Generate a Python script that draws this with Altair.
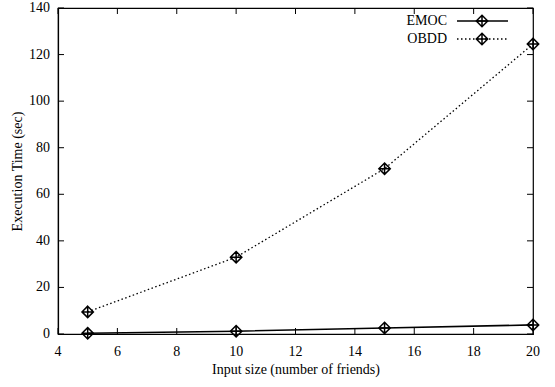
import altair as alt
import pandas as pd

sizes = [5, 10, 15, 20]
emoc = [0.3, 1.2, 2.6, 3.9]
obdd = [9.5, 33.0, 71.0, 124.5]
series_names = ["EMOC", "OBDD"]
x_ticks = [4, 6, 8, 10, 12, 14, 16, 18, 20]
y_ticks = [0, 20, 40, 60, 80, 100, 120, 140]

W, H = 475, 326
FONT = "Liberation Serif"
MARK = "M0,-1L1,0L0,1L-1,0Z M0,-1L0,1 M-1,0L1,0"

df = pd.DataFrame({
    "x": sizes * 2,
    "y": emoc + obdd,
    "s": [series_names[0]] * len(sizes) + [series_names[1]] * len(sizes),
})
xt = pd.DataFrame({"v": x_ticks})
yt = pd.DataFrame({"v": y_ticks})

xs = alt.Scale(domain=[4, 20], nice=False, zero=False)
ys = alt.Scale(domain=[0, 140], nice=False)

axis_style = dict(tickSize=0, grid=False, labels=False, titleFont=FONT,
                  titleFontSize=14, titleColor="black", domainColor="black",
                  domainWidth=1.2, titleFontWeight="normal")
xaxis = alt.Axis(values=x_ticks, title="Input size (number of friends)",
                 titlePadding=28, **axis_style)
yaxis = alt.Axis(values=y_ticks, title="Execution Time (sec)",
                 titlePadding=33, **axis_style)

def X(f):
    return alt.X(f, scale=xs, axis=xaxis)

def Y(f):
    return alt.Y(f, scale=ys, axis=yaxis)

base = alt.Chart(df)
emoc_line = base.transform_filter(alt.datum.s == "EMOC").mark_line(
    color="black", strokeWidth=1.6).encode(x=X("x:Q"), y=Y("y:Q"))
obdd_line = base.transform_filter(alt.datum.s == "OBDD").mark_line(
    color="black", strokeWidth=1.3, strokeDash=[1.5, 2.5]).encode(x=X("x:Q"), y=Y("y:Q"))
pts = base.mark_point(shape=MARK, size=130, filled=False, color="black",
                      strokeWidth=1.5, opacity=1).encode(x=X("x:Q"), y=Y("y:Q"))

xb = alt.Chart(xt).mark_rule(color="black").encode(
    x=X("v:Q"), y=alt.value(H), y2=alt.value(H - 6))
xtp = alt.Chart(xt).mark_rule(color="black").encode(
    x=X("v:Q"), y=alt.value(0), y2=alt.value(6))
yl = alt.Chart(yt).mark_rule(color="black").encode(
    y=Y("v:Q"), x=alt.value(0), x2=alt.value(6))
yr = alt.Chart(yt).mark_rule(color="black").encode(
    y=Y("v:Q"), x=alt.value(W), x2=alt.value(W - 6))

xlab = alt.Chart(xt).mark_text(font=FONT, fontSize=14, color="black", align="center",
                               baseline="middle").encode(
    x=X("v:Q"), y=alt.value(H + 18), text=alt.Text("v:Q", format="d"))
ylab = alt.Chart(yt).mark_text(font=FONT, fontSize=14, color="black", align="right",
                               baseline="middle").encode(
    y=Y("v:Q"), x=alt.value(-8), text=alt.Text("v:Q", format="d"))

leg = pd.DataFrame({"name": series_names})
legend_layers = []
for i, (name, dash) in enumerate([(series_names[0], None), (series_names[1], [1.5, 2.5])]):
    yy = 13 + 18 * i
    src = alt.Chart(leg).transform_filter(alt.datum.name == name)
    legend_layers.append(src.mark_text(align="right", baseline="middle", font=FONT,
                                       fontSize=14, color="black").encode(
        text="name:N", x=alt.value(389), y=alt.value(yy)))
    rule_kw = dict(color="black", strokeWidth=1.6 if dash is None else 1.3)
    if dash is not None:
        rule_kw["strokeDash"] = dash
    legend_layers.append(src.mark_rule(**rule_kw).encode(
        x=alt.value(399), x2=alt.value(450), y=alt.value(yy)))
    legend_layers.append(src.mark_point(shape=MARK, size=130, filled=False, color="black",
                                        strokeWidth=1.5, opacity=1).encode(
        x=alt.value(424), y=alt.value(yy)))

chart = alt.layer(emoc_line, obdd_line, pts, xb, xtp, yl, yr, xlab, ylab,
                  *legend_layers).properties(
    width=W, height=H,
    autosize=alt.AutoSizeParams(type="none"),
    padding={"left": 58, "top": 8, "right": 22, "bottom": 53},
    background="white",
).configure_view(stroke="black", strokeWidth=1.2)

chart.save("out.html", embed_options={"renderer": "svg", "actions": False})
